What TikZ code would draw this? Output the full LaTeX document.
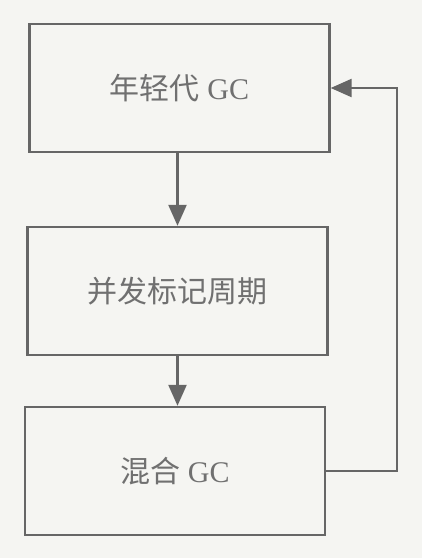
\documentclass[tikz,border=0pt]{standalone}
\usepackage{fontspec}
\setmainfont{Liberation Serif}
\newfontfamily\cjk{Noto Sans CJK SC}
\usetikzlibrary{arrows.meta}
\definecolor{linegray}{HTML}{666666}
\definecolor{textgray}{HTML}{707070}
\definecolor{paper}{HTML}{F5F5F2}
\begin{document}
\begin{tikzpicture}[x=1pt,y=-1pt,
  stage/.style={draw=linegray, line width=2.4pt, fill=paper, minimum width=300pt,
    minimum height=128pt, inner sep=0pt, text=textgray, font=\fontsize{30}{33}\selectfont},
  flow/.style={draw=linegray, line width=2.4pt,
    -{Triangle[length=21pt,width=18pt]}}]
  \fill[paper] (0,0) rectangle (422,558);
  \useasboundingbox (0,0) rectangle (422,558);

  \node[stage] (young) at (179.5,88) {{\cjk 年轻代} GC};
  \node[stage] (mark)  at (177.5,291) {\cjk 并发标记周期};
  \node[stage] (mixed) at (175,471) {{\cjk 混合} GC};

  \draw[flow] (mark.north |- young.south) -- (mark.north);
  \draw[flow] (mark.south) -- (mark.south |- mixed.north);
  \draw[flow] (mixed.east) -- ++(71,0) |- (young.east);
\end{tikzpicture}
\end{document}
